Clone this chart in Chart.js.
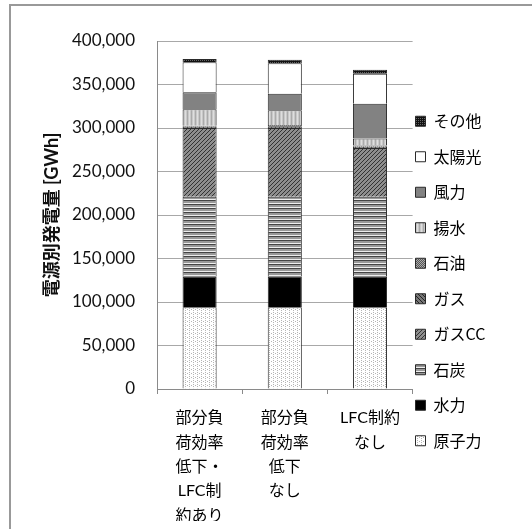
<!DOCTYPE html>
<html>
<head>
<meta charset="utf-8">
<script src="https://cdn.jsdelivr.net/npm/chart.js@4.4.1/dist/chart.umd.min.js"></script>
<style>
  body { margin: 0; background: #fff; }
  #frame { position: absolute; left: 9px; top: 4px; right: 0; bottom: 0; border-left: 2px solid #999; border-top: 2px solid #999; }
  #myChart { position: absolute; left: 0; top: 0; }
</style>
</head>
<body>
<div id="frame"></div>
<canvas id="myChart" width="532" height="529"></canvas>
<script>
// Categories (multi-line labels as in the original)
const categories = [
    ["部分負", "荷効率", "低下・", "LFC制", "約あり"],
    ["部分負", "荷効率", "低下", "なし"],
    ["LFC制約", "なし"]
];

// Generation by source [GWh], bottom of stack first
const nuclear = [94000, 94000, 94000];
const hydro = [35000, 35000, 35000];
const coal = [92000, 92000, 92000];
const gasCC = [79000, 79000, 56000];
const gas = [1500, 2000, 1500];
const oil = [1000, 1500, 1500];
const pumped = [19000, 17000, 8000];
const wind = [19500, 19000, 40000];
const solar = [34500, 35000, 34500];
const other = [3800, 4000, 4500];

const seriesNames = ["原子力", "水力", "石炭", "ガスCC", "ガス", "石油", "揚水", "風力", "太陽光", "その他"];
const seriesValues = [nuclear, hydro, coal, gasCC, gas, oil, pumped, wind, solar, other];

// Y axis ticks
const yTicks = [0, 50000, 100000, 150000, 200000, 250000, 300000, 350000, 400000];

// Small grayscale fill patterns (mimic the Excel hatch fills)
function makePattern(size, draw) {
    const c = document.createElement('canvas');
    c.width = size;
    c.height = size;
    const g = c.getContext('2d');
    draw(g, size);
    return document.getElementById('myChart').getContext('2d').createPattern(c, 'repeat');
}

const fills = [
    // 原子力: white with light dots
    makePattern(4, (g) => { g.fillStyle = '#fff'; g.fillRect(0, 0, 4, 4); g.fillStyle = '#b5b5b5'; g.fillRect(1, 0, 1, 1); g.fillRect(1, 2, 1, 1); g.fillRect(3, 1, 1, 1); }),
    // 水力: black
    '#000000',
    // 石炭: horizontal stripes
    makePattern(4, (g) => { g.fillStyle = '#999'; g.fillRect(0, 0, 4, 4); g.fillStyle = '#444'; g.fillRect(0, 0, 4, 1); g.fillStyle = '#eee'; g.fillRect(0, 3, 4, 1); }),
    // ガスCC: diagonal hatch
    makePattern(4, (g) => { g.fillStyle = '#8e8e8e'; g.fillRect(0, 0, 4, 4); g.fillStyle = '#333'; for (let i = 0; i < 4; i++) g.fillRect(3 - i, i, 1, 1); }),
    // ガス: reverse diagonal, darker
    makePattern(4, (g) => { g.fillStyle = '#777'; g.fillRect(0, 0, 4, 4); g.fillStyle = '#222'; for (let i = 0; i < 4; i++) g.fillRect(i, i, 1, 1); }),
    // 石油: dark dotted
    makePattern(2, (g) => { g.fillStyle = '#555'; g.fillRect(0, 0, 2, 2); g.fillStyle = '#aaa'; g.fillRect(0, 0, 1, 1); g.fillRect(1, 1, 1, 1); }),
    // 揚水: light gray with vertical streaks
    makePattern(4, (g) => { g.fillStyle = '#c8c8c8'; g.fillRect(0, 0, 4, 4); g.fillStyle = '#dedede'; g.fillRect(1, 0, 1, 4); g.fillStyle = '#aaa'; g.fillRect(3, 0, 1, 4); }),
    // 風力: mid gray
    '#828282',
    // 太陽光: white
    '#ffffff',
    // その他: black dotted
    makePattern(2, (g) => { g.fillStyle = '#111'; g.fillRect(0, 0, 2, 2); g.fillStyle = '#666'; g.fillRect(0, 0, 1, 1); })
];

const datasets = seriesNames.map((name, i) => ({
    label: name,
    data: seriesValues[i],
    backgroundColor: fills[i],
    borderColor: '#2a2a2a',
    borderWidth: 1,
    barPercentage: 0.4,
    categoryPercentage: 1.0
}));

const baseFont = "Lato, 'Noto Sans CJK JP', sans-serif";

// Move the legend so its boxes sit where the original has them
const legendShift = {
    id: 'legendShift',
    afterLayout(chart) {
        const lg = chart.legend;
        const dx = 396 - lg.left;
        lg.left += dx;
        lg.right += dx;
    }
};

const ctx = document.getElementById('myChart').getContext('2d');
const myChart = new Chart(ctx, {
    type: 'bar',
    data: {
        labels: categories,
        datasets: datasets
    },
    plugins: [legendShift],
    options: {
        responsive: false,
        animation: false,
        layout: {
            padding: { top: 41, bottom: 8, left: 30, right: 20 }
        },
        scales: {
            x: {
                stacked: true,
                afterFit: (scale) => { scale.height = 132; },
                grid: {
                    display: true,
                    drawOnChartArea: false,
                    drawTicks: true,
                    tickLength: 5,
                    color: '#8a8a8a'
                },
                border: { display: true, color: '#8a8a8a', width: 1 },
                ticks: {
                    color: '#000',
                    padding: 12,
                    maxRotation: 0,
                    autoSkip: false,
                    font: { family: baseFont, size: 16, lineHeight: 1.52 }
                }
            },
            y: {
                stacked: true,
                min: 0,
                max: 400000,
                afterFit: (scale) => { scale.width = 157 - 30; },
                afterBuildTicks: (scale) => { scale.ticks = yTicks.map(v => ({ value: v })); },
                grid: {
                    color: '#a8a8a8',
                    drawTicks: false
                },
                border: { display: true, color: '#8a8a8a', width: 1 },
                ticks: {
                    color: '#111',
                    padding: 22,
                    font: { family: baseFont, size: 17 },
                    callback: (v) => v.toLocaleString('en-US')
                },
                title: {
                    display: true,
                    text: '電源別発電量 [GWh]',
                    color: '#111',
                    padding: { top: 11, bottom: 4 },
                    font: { family: baseFont, size: 18, weight: 'bold' }
                }
            }
        },
        plugins: {
            legend: {
                position: 'right',
                reverse: true,
                labels: {
                    color: '#000',
                    boxWidth: 10,
                    boxHeight: 10,
                    padding: 19.5,
                    font: { family: "'Noto Sans CJK JP', sans-serif", size: 16 }
                }
            },
            tooltip: { enabled: false }
        }
    }
});
</script>
</body>
</html>
